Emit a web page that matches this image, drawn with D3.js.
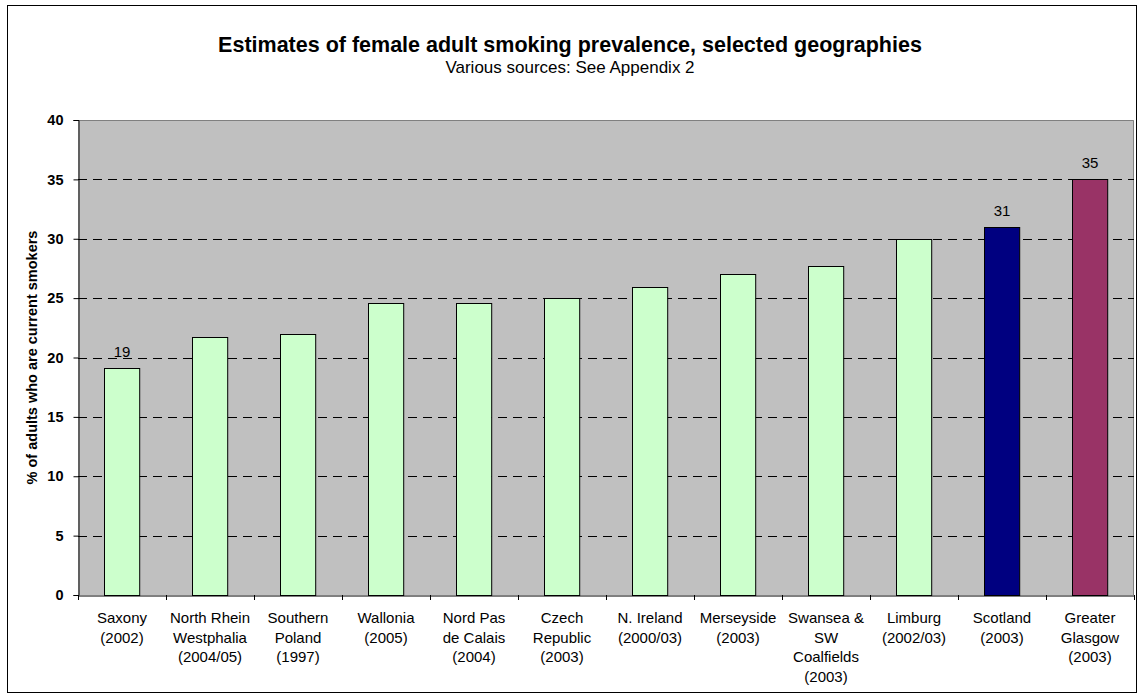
<!DOCTYPE html>
<html><head><meta charset="utf-8">
<script src="https://cdn.jsdelivr.net/npm/d3@7"></script>
<style>body{margin:0;background:#fff}svg{display:block}text{font-family:"Liberation Sans",Arial,sans-serif}</style>
</head><body><svg id="c" width="1140" height="698"></svg>
<script>
const categories = [
  ["Saxony","(2002)"],
  ["North Rhein","Westphalia","(2004/05)"],
  ["Southern","Poland","(1997)"],
  ["Wallonia","(2005)"],
  ["Nord Pas","de Calais","(2004)"],
  ["Czech","Republic","(2003)"],
  ["N. Ireland","(2000/03)"],
  ["Merseyside","(2003)"],
  ["Swansea &","SW","Coalfields","(2003)"],
  ["Limburg","(2002/03)"],
  ["Scotland","(2003)"],
  ["Greater","Glasgow","(2003)"]
];
const values = [19.1, 21.7, 22.0, 24.6, 24.6, 25.0, 25.9, 27.0, 27.7, 30.0, 31.0, 35.0];
const barColors = ["#CCFFCC","#CCFFCC","#CCFFCC","#CCFFCC","#CCFFCC","#CCFFCC","#CCFFCC","#CCFFCC","#CCFFCC","#CCFFCC","#000080","#993366"];
const dataLabels = ["19","","","","","","","","","","31","35"];
const yTicks = [0,5,10,15,20,25,30,35,40];

const svg = d3.select("#c");
const L = 78, R = 1134, T = 120, B = 595;

svg.append("rect").attr("x",7.5).attr("y",5.5).attr("width",1129).attr("height",687)
  .attr("fill","#fff").attr("stroke","#000").attr("stroke-width",1);

svg.append("text").attr("x",570).attr("y",52).attr("text-anchor","middle")
  .attr("font-weight","bold").attr("font-size",21.5).text("Estimates of female adult smoking prevalence, selected geographies");
svg.append("text").attr("x",570).attr("y",73).attr("text-anchor","middle")
  .attr("font-size",17).text("Various sources: See Appendix 2");

const x = d3.scaleBand().domain(d3.range(categories.length)).range([L,R]).paddingInner(0.6).paddingOuter(0.3);
const xb = d3.scaleBand().domain(d3.range(categories.length)).range([L,R]);
const y = d3.scaleLinear().domain([0,40]).range([B,T]);

svg.append("rect").attr("x",L).attr("y",T).attr("width",R-L).attr("height",B-T).attr("fill","#C0C0C0");
svg.append("path").attr("d",`M${L},${T+0.5}H${R-0.5}V${B}`).attr("fill","none").attr("stroke","#808080");

svg.append("g").selectAll("line").data(yTicks.filter(d=>d>0&&d<40)).join("line")
  .attr("x1",L).attr("x2",R).attr("y1",d=>Math.round(y(d))+0.5).attr("y2",d=>Math.round(y(d))+0.5)
  .attr("stroke","#000").attr("stroke-dasharray","9,6");

svg.append("g").selectAll("rect").data(values).join("rect")
  .attr("x",(d,i)=>Math.round(x(i))+0.5).attr("y",d=>Math.round(y(d))+0.5)
  .attr("width",x.bandwidth()).attr("height",d=>B-Math.round(y(d)))
  .attr("fill",(d,i)=>barColors[i]).attr("stroke","#000").attr("stroke-width",1);

svg.append("g").selectAll("text").data(values).join("text")
  .attr("x",(d,i)=>x(i)+x.bandwidth()/2).attr("y",d=>y(d)-11)
  .attr("text-anchor","middle").attr("font-size",15).attr("fill","#000")
  .text((d,i)=>dataLabels[i]);

const ya = svg.append("g").attr("transform",`translate(${L+0.5},0)`)
  .call(d3.axisLeft(y).tickValues(yTicks).tickSize(5).tickPadding(10).tickFormat(d3.format("d")));
ya.select(".domain").attr("stroke","#000");
ya.selectAll("text").attr("font-size",14.5).attr("font-weight","bold").attr("font-family","Liberation Sans, Arial").attr("fill","#000");

const xa = svg.append("g").attr("transform",`translate(0,${B+0.5})`)
  .call(d3.axisBottom(xb).tickSize(0).tickFormat(""));
xa.select(".domain").attr("stroke","#000");
xa.selectAll(".tick").remove();
svg.append("g").selectAll("line").data(d3.range(categories.length+1)).join("line")
  .attr("x1",i=>Math.round(L+i*xb.step())+0.5).attr("x2",i=>Math.round(L+i*xb.step())+0.5)
  .attr("y1",B).attr("y2",B+5).attr("stroke","#000");

const lab = svg.append("g").selectAll("text").data(categories).join("text")
  .attr("text-anchor","middle").attr("font-size",15)
  .attr("transform",(d,i)=>`translate(${xb(i)+xb.bandwidth()/2},${623})`);
lab.selectAll("tspan").data(d=>d).join("tspan").attr("x",0).attr("y",(d,j)=>j*19.5).text(d=>d);

svg.append("text").attr("transform",`translate(37,${(T+B)/2}) rotate(-90)`)
  .attr("text-anchor","middle").attr("font-weight","bold").attr("font-size",14.5).text("% of adults who are current smokers");
</script></body></html>
